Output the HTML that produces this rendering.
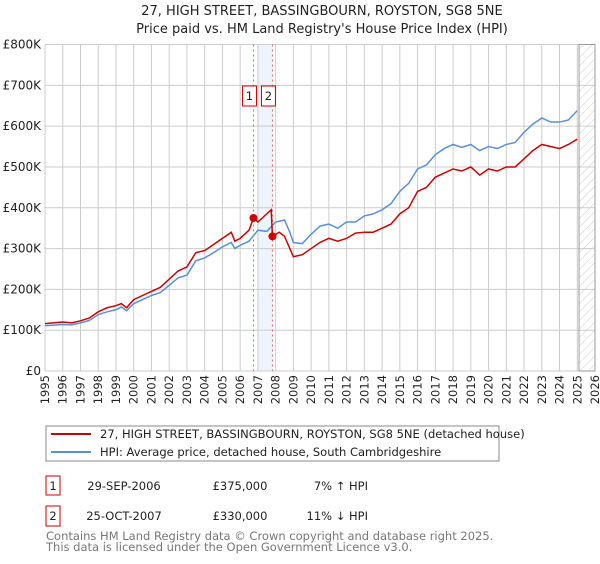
<!DOCTYPE html>
<html><head><meta charset="utf-8"><style>
body{margin:0;background:#fff;font-family:"DejaVu Sans","Liberation Sans",sans-serif;}
svg text{font-family:"DejaVu Sans","Liberation Sans",sans-serif;}
</style></head><body>
<svg id="chart" width="600" height="560" xmlns="http://www.w3.org/2000/svg">
<defs><pattern id="hatch" width="6" height="6" patternUnits="userSpaceOnUse" patternTransform="rotate(45)"><line x1="0" y1="0" x2="0" y2="6" stroke="#ccc" stroke-width="1"/></pattern></defs>
<text x="322" y="15" text-anchor="middle" font-size="13" fill="#222">27, HIGH STREET, BASSINGBOURN, ROYSTON, SG8 5NE</text>
<text x="322" y="33" text-anchor="middle" font-size="13" fill="#222">Price paid vs. HM Land Registry's House Price Index (HPI)</text>
<g id="grid"></g><g id="marks"></g><g id="axes"></g>
<rect x="46" y="426" width="453" height="35" fill="#fff" stroke="#888"/>
<line x1="51" y1="434" x2="91" y2="434" stroke="#cc0000" stroke-width="2"/>
<text x="100" y="438" font-size="11.5" fill="#222">27, HIGH STREET, BASSINGBOURN, ROYSTON, SG8 5NE (detached house)</text>
<line x1="51" y1="452" x2="91" y2="452" stroke="#5b8fd6" stroke-width="2"/>
<text x="100" y="456" font-size="11.5" fill="#222">HPI: Average price, detached house, South Cambridgeshire</text>
<rect x="46" y="476" width="14" height="19" fill="#fff" stroke="#cc0000"/>
<text x="53" y="490" text-anchor="middle" font-size="11.5" fill="#222">1</text>
<text x="124" y="490" text-anchor="middle" font-size="11.5" fill="#222">29-SEP-2006</text>
<text x="240" y="490" text-anchor="middle" font-size="11.5" fill="#222">£375,000</text>
<text x="368" y="490" text-anchor="end" font-size="11.5" fill="#222">7% ↑ HPI</text>
<rect x="46" y="506" width="14" height="20" fill="#fff" stroke="#cc0000"/>
<text x="53" y="520" text-anchor="middle" font-size="11.5" fill="#222">2</text>
<text x="124" y="520" text-anchor="middle" font-size="11.5" fill="#222">25-OCT-2007</text>
<text x="240" y="520" text-anchor="middle" font-size="11.5" fill="#222">£330,000</text>
<text x="368" y="520" text-anchor="end" font-size="11.5" fill="#222">11% ↓ HPI</text>
<text x="46" y="540" font-size="11.5" fill="#777">Contains HM Land Registry data © Crown copyright and database right 2025.</text>
<text x="46" y="551" font-size="11.5" fill="#777">This data is licensed under the Open Government Licence v3.0.</text>
</svg>
<script>
const yearTicks=[1995,1996,1997,1998,1999,2000,2001,2002,2003,2004,2005,2006,2007,2008,2009,2010,2011,2012,2013,2014,2015,2016,2017,2018,2019,2020,2021,2022,2023,2024,2025,2026];
const valueTicks=[0,100000,200000,300000,400000,500000,600000,700000,800000];
const valueLabels=["£0","£100K","£200K","£300K","£400K","£500K","£600K","£700K","£800K"];
const hpiDates=[1995,1996,1996.5,1997,1997.5,1998,1998.5,1999,1999.3,1999.6,2000,2000.5,2001,2001.5,2002,2002.5,2003,2003.5,2004,2004.5,2005,2005.5,2005.7,2006,2006.5,2007,2007.5,2008,2008.5,2008.8,2009,2009.5,2010,2010.5,2011,2011.5,2012,2012.5,2013,2013.5,2014,2014.5,2015,2015.5,2016,2016.5,2017,2017.5,2018,2018.5,2019,2019.5,2020,2020.5,2021,2021.5,2022,2022.5,2023,2023.5,2024,2024.5,2025];
const hpiValues=[111,114,113,118,124,138,145,150,157,148,165,175,185,192,210,228,235,270,277,290,304,315,300,308,318,345,342,365,370,340,315,312,335,355,360,350,365,365,380,385,395,410,440,460,495,505,530,545,555,548,555,540,550,545,555,560,585,605,620,610,610,615,638];
const propDates=[1995,1996,1996.5,1997,1997.5,1998,1998.5,1999,1999.3,1999.6,2000,2000.5,2001,2001.5,2002,2002.5,2003,2003.5,2004,2004.5,2005,2005.5,2005.7,2006,2006.5,2006.75,2007,2007.5,2007.75,2007.82,2008.2,2008.5,2008.8,2009,2009.5,2010,2010.5,2011,2011.5,2012,2012.5,2013,2013.5,2014,2014.5,2015,2015.5,2016,2016.5,2017,2017.5,2018,2018.5,2019,2019.5,2020,2020.5,2021,2021.5,2022,2022.5,2023,2023.5,2024,2024.5,2025];
const propValues=[116,120,118,123,130,145,155,160,165,155,175,185,195,205,225,245,255,290,295,310,325,340,318,325,345,375,365,385,395,330,340,330,300,280,285,300,315,325,318,325,338,340,340,350,360,385,400,440,450,475,485,495,490,500,480,495,490,500,500,520,540,555,550,545,555,568];
const saleDates=[2006.75,2007.82];
const saleValues=[375,330];
const saleLabels=["1","2"];
const L=45,R=595,T=44.5,B=371;
const x=d=>L+(d-1995)/(2026-1995)*(R-L);
const y=v=>B-v/800000*(B-T);
const NS="http://www.w3.org/2000/svg";
function mk(p,t,a){const e=document.createElementNS(NS,t);for(const k in a)e.setAttribute(k,a[k]);p.appendChild(e);return e;}
const grid=document.getElementById('grid'),marks=document.getElementById('marks'),axes=document.getElementById('axes');
const band=mk(grid,'rect',{x:x(2007),y:T,width:x(2007.82)-x(2007),height:B-T,fill:'#eef3fc'});


yearTicks.forEach(yr=>{const l=mk(grid,'line',{x1:x(yr),x2:x(yr),y1:T,y2:B,stroke:'#ccc'});


const t=mk(axes,'text',{transform:`translate(${x(yr)+4},${B+4}) rotate(-90)`,'text-anchor':'end','font-size':'11.5',fill:'#222'});t.textContent=yr;

});
valueTicks.forEach((v,i)=>{const l=mk(grid,'line',{x1:L,x2:R,y1:y(v),y2:y(v),stroke:'#ccc'});


const t=mk(axes,'text',{x:L-4,y:y(v)+4,'text-anchor':'end','font-size':'12',fill:'#222'});t.textContent=valueLabels[i];

});
const h=mk(grid,'rect',{x:x(2025.1),y:T,width:R-x(2025.1),height:B-T,fill:'url(#hatch)',stroke:'#999'});


saleDates.forEach((d,i)=>{const l=mk(grid,'line',{x1:x(d),x2:x(d),y1:T,y2:B,stroke:'#e06666','stroke-dasharray':'2,3'});

});
const hp=mk(marks,'polyline',{points:hpiDates.map((d,i)=>x(d)+','+y(hpiValues[i]*1000)).join(' '),fill:'none',stroke:'#5b8fd6','stroke-width':1.5});


const pp=mk(marks,'polyline',{points:propDates.map((d,i)=>x(d)+','+y(propValues[i]*1000)).join(' '),fill:'none',stroke:'#cc0000','stroke-width':1.5});


saleDates.forEach((d,i)=>{const c=mk(marks,'circle',{cx:x(d),cy:y(saleValues[i]*1000),r:4,fill:'#cc0000'});


const bx=x(d)-11;
const r=mk(marks,'rect',{x:bx,y:86,width:14,height:20,fill:'#fff',stroke:'#cc0000'});


const t=mk(marks,'text',{x:bx+7,y:100,'text-anchor':'middle','font-size':'11.5',fill:'#222'});t.textContent=saleLabels[i];

});
</script>
</body></html>
